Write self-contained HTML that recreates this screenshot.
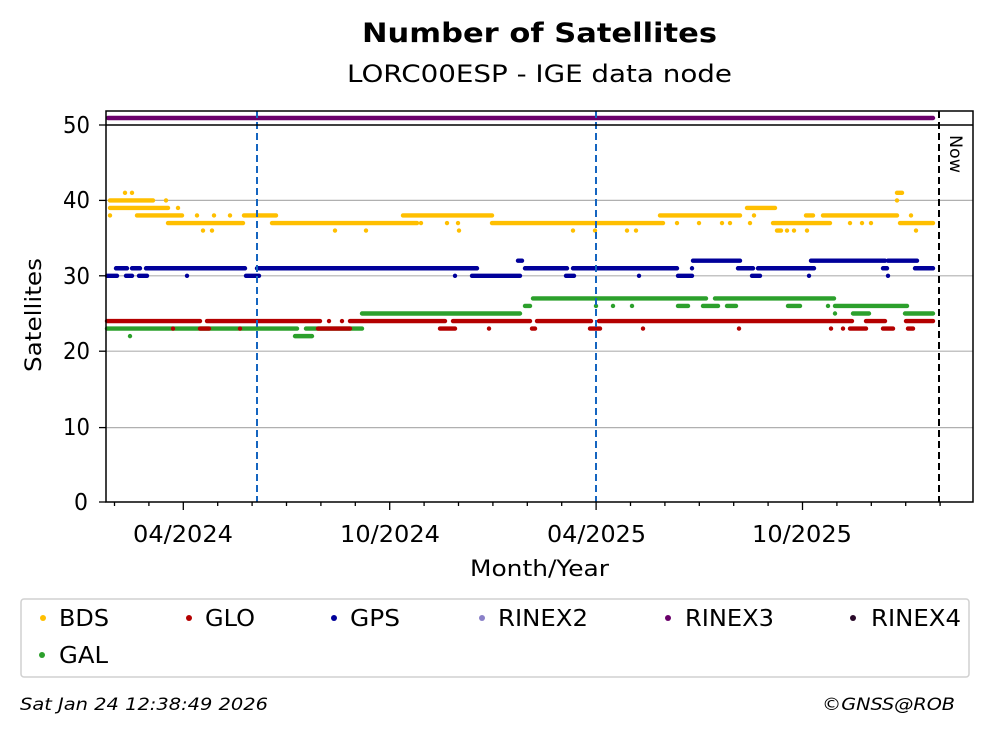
<!DOCTYPE html>
<html><head><meta charset="utf-8"><style>
html,body{margin:0;padding:0;background:#fff;}
svg{display:block;font-family:"DejaVu Sans","Liberation Sans",sans-serif;}
</style></head><body>
<svg id="s" width="992" height="734" viewBox="0 0 992 734" xmlns="http://www.w3.org/2000/svg">
<rect width="992" height="734" fill="#fff"/>
<text x="362" y="42" font-weight="bold" font-size="27" textLength="355" lengthAdjust="spacingAndGlyphs">Number of Satellites</text>
<text x="347" y="82" font-size="24" textLength="385" lengthAdjust="spacingAndGlyphs">LORC00ESP - IGE data node</text>
<g stroke="#b0b0b0" stroke-width="1.2">
<line x1="106" x2="973" y1="427.6" y2="427.6"/>
<line x1="106" x2="973" y1="351.2" y2="351.2"/>
<line x1="106" x2="973" y1="275.8" y2="275.8"/>
<line x1="106" x2="973" y1="200.4" y2="200.4"/>
</g>
<g id="data" fill="none" stroke-linecap="round" stroke-width="4.4"></g>
<g stroke="#1565c0" stroke-width="2" stroke-dasharray="7,4">
<line x1="257" x2="257" y1="111" y2="502"/>
<line x1="596" x2="596" y1="111" y2="502"/>
</g>
<line x1="939" x2="939" y1="111" y2="502" stroke="#000" stroke-width="2" stroke-dasharray="7,4"/>
<text transform="translate(950,135) rotate(90)" font-size="17" textLength="38" lengthAdjust="spacingAndGlyphs">Now</text>
<rect x="106" y="111" width="867" height="391" fill="none" stroke="#000" stroke-width="1.5"/>
<line x1="106" x2="973" y1="125" y2="125" stroke="#000" stroke-width="1.5"/>
<g stroke="#000" stroke-width="1.3" id="ticks">
<line x1="99" x2="106" y1="502" y2="502"/><line x1="99" x2="106" y1="427.6" y2="427.6"/>
<line x1="99" x2="106" y1="351.2" y2="351.2"/><line x1="99" x2="106" y1="275.8" y2="275.8"/>
<line x1="99" x2="106" y1="200.4" y2="200.4"/><line x1="99" x2="106" y1="125" y2="125"/>
</g>
<g font-size="23">
<text x="74" y="510" textLength="14" lengthAdjust="spacingAndGlyphs">0</text>
<text x="63" y="435" textLength="27" lengthAdjust="spacingAndGlyphs">10</text>
<text x="63" y="359" textLength="27" lengthAdjust="spacingAndGlyphs">20</text>
<text x="63" y="284" textLength="27" lengthAdjust="spacingAndGlyphs">30</text>
<text x="63" y="208" textLength="27" lengthAdjust="spacingAndGlyphs">40</text>
<text x="63" y="133" textLength="27" lengthAdjust="spacingAndGlyphs">50</text>
<text x="133" y="542" textLength="100" lengthAdjust="spacingAndGlyphs">04/2024</text>
<text x="340" y="542" textLength="100" lengthAdjust="spacingAndGlyphs">10/2024</text>
<text x="547" y="542" textLength="99" lengthAdjust="spacingAndGlyphs">04/2025</text>
<text x="752" y="542" textLength="100" lengthAdjust="spacingAndGlyphs">10/2025</text>
</g>
<text x="470" y="576" font-size="22" textLength="139" lengthAdjust="spacingAndGlyphs">Month/Year</text>
<text transform="translate(41,372) rotate(-90)" font-size="22" textLength="114" lengthAdjust="spacingAndGlyphs">Satellites</text>
<rect x="21" y="599" width="948" height="78" rx="3" fill="#fff" stroke="#d0d0d0" stroke-width="1.5"/>
<g font-size="23">
<circle cx="43" cy="618" r="3" fill="#ffbf00"/><text x="59" y="626" textLength="50" lengthAdjust="spacingAndGlyphs">BDS</text>
<circle cx="189" cy="618" r="3" fill="#b40000"/><text x="205" y="626" textLength="50" lengthAdjust="spacingAndGlyphs">GLO</text>
<circle cx="334" cy="618" r="3" fill="#00009a"/><text x="350" y="626" textLength="50" lengthAdjust="spacingAndGlyphs">GPS</text>
<circle cx="482" cy="618" r="3" fill="#8a80c8"/><text x="498" y="626" textLength="90" lengthAdjust="spacingAndGlyphs">RINEX2</text>
<circle cx="668" cy="618" r="3" fill="#6a006a"/><text x="685" y="626" textLength="89" lengthAdjust="spacingAndGlyphs">RINEX3</text>
<circle cx="853" cy="618" r="3" fill="#2a0a2a"/><text x="871" y="626" textLength="90" lengthAdjust="spacingAndGlyphs">RINEX4</text>
<circle cx="42" cy="655" r="3" fill="#2ca02c"/><text x="59" y="663" textLength="49" lengthAdjust="spacingAndGlyphs">GAL</text>
</g>
<text x="20" y="710" font-size="17" font-style="italic" textLength="248" lengthAdjust="spacingAndGlyphs">Sat Jan 24 12:38:49 2026</text>
<text x="822" y="710" font-size="17" font-style="italic" textLength="133" lengthAdjust="spacingAndGlyphs">©GNSS@ROB</text>
</svg>
<script>
var Y=function(v){return 502-v*7.54;};
var S={
"#ffbf00":[[40,110,153],[40,166,166],[41,125,125],[41,132,132],[39,110,168],[39,178,178],[38,110,110],[38,137,182],[38,197,197],[38,214,214],[38,230,230],[38,244,276],[38,403,492],
[37,168,243],[37,272,417],[37,421,421],[37,447,447],[37,458,458],[37,492,663],[37,677,677],[37,699,699],[37,722,722],[37,730,730],[37,750,750],[37,773,830],[37,850,850],[37,862,862],[37,871,871],[37,900,933],
[36,203,203],[36,212,212],[36,335,335],[36,366,366],[36,459,459],[36,573,573],[36,595,595],[36,627,627],[36,636,636],[36,777,781],[36,787,787],[36,794,794],[36,807,807],[36,916,916],
[38,660,740],[38,754,754],[38,806,813],[38,823,897],[38,911,911],[39,747,775],[40,897,897],[41,897,902]],
"#00009a":[[31,116,127],[31,132,140],[31,146,245],[31,257,477],[31,525,567],[31,573,677],[31,692,692],[31,738,753],[31,758,814],[31,883,887],[31,915,933],
[30,107,117],[30,126,132],[30,139,147],[30,187,187],[30,246,259],[30,455,455],[30,472,520],[30,566,574],[30,678,692],[30,752,760],[30,639,639],[30,809,809],[30,888,888],
[32,518,522],[32,693,740],[32,811,885],[32,888,917]],
"#2ca02c":[[23,107,297],[23,306,362],[22,130,130],[22,295,312],[25,362,520],[26,525,530],[27,533,706],[27,715,834],
[26,596,596],[26,613,613],[26,632,632],[26,678,688],[26,703,718],[26,727,736],[26,788,800],[26,828,828],[26,835,907],[25,835,835],[25,853,869],[25,905,933]],
"#b40000":[[24,107,200],[24,207,320],[24,329,329],[24,342,342],[24,350,445],[24,453,530],[24,537,591],[24,599,852],[24,866,885],[24,906,933],
[23,173,173],[23,200,209],[23,240,240],[23,318,350],[23,440,455],[23,489,489],[23,532,535],[23,590,600],[23,643,643],[23,739,739],[23,831,831],[23,843,843],[23,850,866],[23,883,893],[23,908,913]],
"#6a006a":[[51,108,933]]
};
var g=document.getElementById("data"),ns="http://www.w3.org/2000/svg";
for(var c in S){var d="";S[c].forEach(function(s){var y=c=="#6a006a"?118:Y(s[0]);d+="M"+s[1]+" "+y+"H"+(s[2]+0.01);});
var p=document.createElementNS(ns,"path");p.setAttribute("d",d);p.setAttribute("stroke",c);g.appendChild(p);}
var t=document.getElementById("ticks");
for(var i=0;i<26;i++){var x=114.5+i*34.4;if(x>972)break;var maj=[183,390,596,802].some(function(m){return Math.abs(m-x)<8;});
var l=document.createElementNS(ns,"line");l.setAttribute("x1",x);l.setAttribute("x2",x);l.setAttribute("y1",502);l.setAttribute("y2",maj?510:506);t.appendChild(l);}
</script>
</body></html>
